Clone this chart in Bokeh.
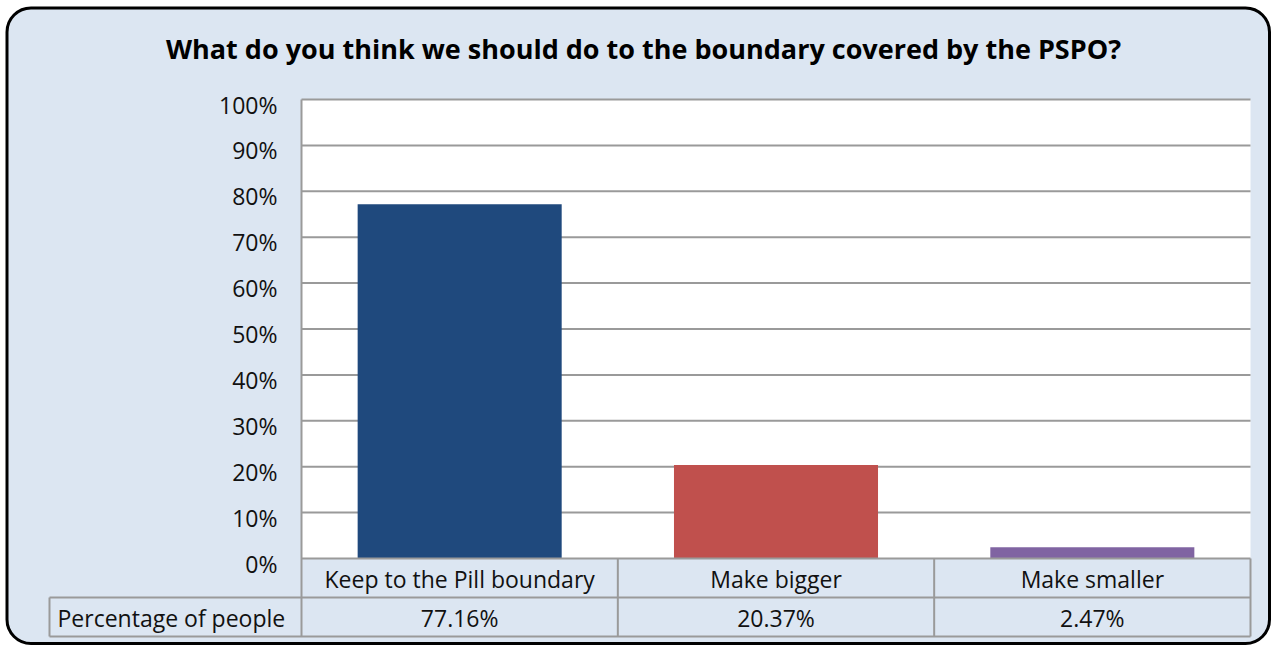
from bokeh.plotting import figure
from bokeh.models import Range1d, BoxAnnotation, ColumnDataSource
from bokeh.core.properties import value
from bokeh.embed import file_html
from bokeh.resources import INLINE

# ---- data ----
categories = ["Keep to the Pill boundary", "Make bigger", "Make smaller"]
values = [77.16, 20.37, 2.47]
bar_colors = ["#1F497D", "#C0504D", "#8064A2"]
row_label = "Percentage of people"
title_text = "What do you think we should do to the boundary covered by the PSPO?"
y_ticks = [0, 10, 20, 30, 40, 50, 60, 70, 80, 90, 100]
y_tick_labels = [f"{t}%" for t in y_ticks]
value_labels = [f"{v:.2f}%" for v in values]

FONT = value("Open Sans")
TXT = "#111111"
BG = "#DCE6F2"
GRID = "#9a9a9a"
FS = "23px"

# ---- layout (pixel positions of the plot area) ----
W, H = 1271, 645
PX_L, PX_R = 301, 1250      # plot area x extent (category 0 .. n)
PY_0, PY_100 = 558, 99      # y pixel of 0% and 100%
n = len(categories)
ppx = (PX_R - PX_L) / n
ppy = (PY_0 - PY_100) / 100.0
x_start = -PX_L / ppx
x_end = n + (W - PX_R) / ppx
y_end = 100 + PY_100 / ppy
y_start = -(H - PY_0) / ppy

def X(px):
    return x_start + px / ppx

def Y(py):
    return y_end - py / ppy

p = figure(x_range=Range1d(x_start, x_end), y_range=Range1d(y_start, y_end),
           width=W, height=H, output_backend="svg", toolbar_location=None,
           min_border=0, x_axis_type=None, y_axis_type=None)
p.title = None
p.border_fill_color = "white"
p.background_fill_color = "white"
p.outline_line_color = None
p.grid.visible = False

# outer rounded box
p.add_layout(BoxAnnotation(left=X(6.5), right=X(W - 2), top=Y(7.5), bottom=Y(H - 2),
                           fill_color=BG, fill_alpha=1, line_color="black", line_alpha=1,
                           line_width=3, border_radius=24, level="image"))

# plot area
p.quad(left=[0], right=[n], bottom=[0], top=[100], fill_color="white", line_color=None,
       level="underlay")
grid_y = y_ticks[1:]
p.segment(x0=[0] * len(grid_y), x1=[n] * len(grid_y), y0=grid_y, y1=grid_y,
          line_color=GRID, line_width=2, level="underlay")

# bars
src = ColumnDataSource(dict(x=[i + 0.5 for i in range(n)], val=values, color=bar_colors))
p.vbar(x="x", top="val", width=0.645, bottom=0, fill_color="color", line_color=None, source=src)

# y tick labels
p.text(x=[X(277)] * len(y_ticks), y=y_ticks, text=y_tick_labels, text_font=FONT,
       text_font_size=FS, text_color=TXT, text_align="right", text_baseline="middle",
       y_offset=5)

# data table
r1t, r1b, r2b = Y(558), Y(597), Y(636)
xl = X(49)
hx0 = [0, xl, xl]
hx1 = [n, n, n]
hy = [r1t, r1b, r2b]
p.segment(x0=hx0, x1=hx1, y0=hy, y1=hy, line_color=GRID, line_width=2, level="annotation")
vx = list(range(n + 1)) + [xl]
vy0 = [100] + [r1t] * n + [r1b]
vy1 = [r2b] * (n + 2)
p.segment(x0=vx, x1=vx, y0=vy0, y1=vy1, line_color=GRID, line_width=2, level="annotation")

cx = [i + 0.5 for i in range(n)]
p.text(x=cx, y=[Y(578)] * n, text=categories, text_font=FONT, text_font_size=FS,
       text_color=TXT, text_align="center", text_baseline="middle")
p.text(x=cx, y=[Y(617)] * n, text=value_labels, text_font=FONT, text_font_size=FS,
       text_color=TXT, text_align="center", text_baseline="middle")
p.text(x=[X(57)], y=[Y(617)], text=[row_label], text_font=FONT, text_font_size=FS,
       text_color=TXT, text_align="left", text_baseline="middle")

# title
p.text(x=[X(643)], y=[Y(48)], text=[title_text], text_font=FONT, text_font_size="27px",
       text_font_style="bold", text_color="black", text_align="center", text_baseline="middle")

open("out.html", "w").write(file_html(p, INLINE))
